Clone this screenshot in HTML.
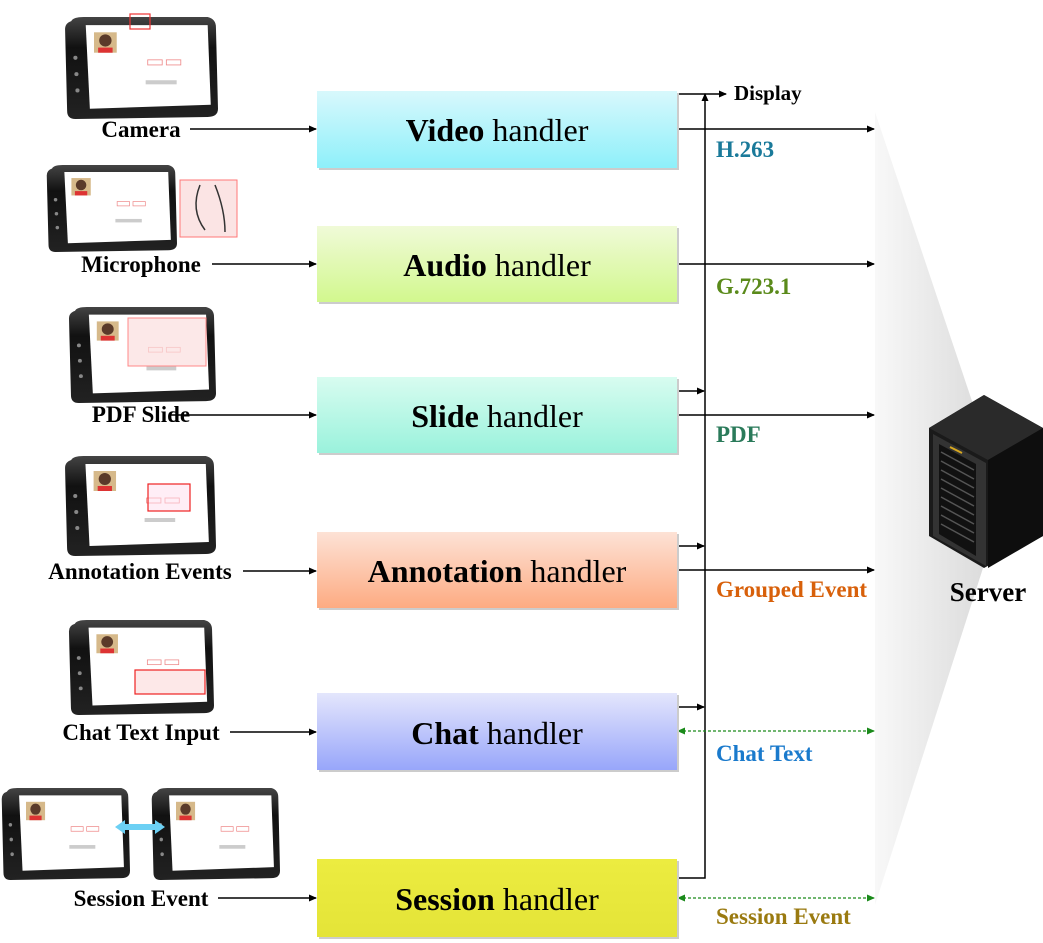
<!DOCTYPE html>
<html><head><meta charset="utf-8">
<style>
body{margin:0;background:#fff;}
svg{display:block;font-family:"Liberation Serif",serif;}
</style></head><body>
<svg width="1043" height="943" viewBox="0 0 1043 943" xmlns="http://www.w3.org/2000/svg">
<defs>
<linearGradient id="fan" x1="0" x2="1" y1="0" y2="0">
<stop offset="0" stop-color="#f8f8f8"/><stop offset="1" stop-color="#dcdcdc"/></linearGradient>
<linearGradient id="gV" x1="0" y1="0" x2="0" y2="1"><stop offset="0" stop-color="#d8f8fc"/><stop offset="1" stop-color="#8ef0fa"/></linearGradient>
<linearGradient id="gA" x1="0" y1="0" x2="0" y2="1"><stop offset="0" stop-color="#f0fad8"/><stop offset="1" stop-color="#d2f88e"/></linearGradient>
<linearGradient id="gS" x1="0" y1="0" x2="0" y2="1"><stop offset="0" stop-color="#d8fcf0"/><stop offset="1" stop-color="#9af2dc"/></linearGradient>
<linearGradient id="gN" x1="0" y1="0" x2="0" y2="1"><stop offset="0" stop-color="#fde2d6"/><stop offset="1" stop-color="#fdab82"/></linearGradient>
<linearGradient id="gC" x1="0" y1="0" x2="0" y2="1"><stop offset="0" stop-color="#e4e6fc"/><stop offset="1" stop-color="#98a6fa"/></linearGradient>
<linearGradient id="gE" x1="0" y1="0" x2="0" y2="1"><stop offset="0" stop-color="#ecec40"/><stop offset="1" stop-color="#e4e438"/></linearGradient>
<linearGradient id="dark" x1="0" y1="0" x2="0" y2="1"><stop offset="0" stop-color="#444"/><stop offset="0.3" stop-color="#111"/><stop offset="1" stop-color="#222"/></linearGradient>
<marker id="ar" markerWidth="8" markerHeight="8" refX="7" refY="4" orient="auto" markerUnits="userSpaceOnUse"><path d="M0,0.5 L8,4 L0,7.5z" fill="#000"/></marker>
<marker id="ag" markerWidth="8" markerHeight="8" refX="7" refY="4" orient="auto-start-reverse" markerUnits="userSpaceOnUse"><path d="M0,0.5 L8,4 L0,7.5z" fill="#1a8a1a"/></marker>
<symbol id="tab" viewBox="0 0 150 100" preserveAspectRatio="none">
<path d="M8,4 Q10,0 20,0 L140,0 Q148,2 148,10 L150,90 Q150,98 140,98 L12,100 Q4,100 4,92 L2,12 Q2,6 8,4z" fill="url(#dark)"/>
<path d="M22,8 L140,8 L143,86 L26,90z" fill="#fff"/>
<rect x="30" y="15" width="22" height="20" fill="#d6b98a"/>
<circle cx="41" cy="23" r="6" fill="#5a3a2a"/>
<rect x="34" y="30" width="14" height="5" fill="#d33"/>
<rect x="82" y="42" width="14" height="5" fill="none" stroke="#e88" stroke-width="0.8"/>
<rect x="100" y="42" width="14" height="5" fill="none" stroke="#e88" stroke-width="0.8"/>
<rect x="80" y="62" width="30" height="4" fill="#ccc"/>
<circle cx="12" cy="40" r="2" fill="#888"/><circle cx="13" cy="56" r="2" fill="#888"/><circle cx="14" cy="72" r="2" fill="#888"/>
</symbol>
</defs>

<polygon points="875,112 975,410 983,568 875,905" fill="url(#fan)"/>

<use href="#tab" x="63" y="17" width="155" height="102"/>
<rect x="130" y="14" width="20" height="15" fill="none" stroke="#e33" stroke-width="1.2"/>
<use href="#tab" x="45" y="165" width="132" height="87"/>
<rect x="180" y="180" width="57" height="57" fill="#fbe4e4" stroke="#f77" stroke-width="1"/>
<path d="M200,185 Q190,210 205,230 M215,185 Q225,210 225,232" stroke="#333" fill="none" stroke-width="1.5"/>
<use href="#tab" x="67" y="307" width="149" height="96"/>
<rect x="128" y="318" width="78" height="48" fill="#fbdede" fill-opacity="0.7" stroke="#f88"/>
<use href="#tab" x="63" y="456" width="153" height="100"/>
<rect x="148" y="484" width="42" height="27" fill="#fde" fill-opacity="0.5" stroke="#e22" stroke-width="1.2"/>
<use href="#tab" x="67" y="620" width="147" height="95"/>
<rect x="135" y="670" width="70" height="24" fill="#fde8e8" stroke="#e22" stroke-width="1.2"/>
<use href="#tab" x="0" y="788" width="130" height="92"/>
<use href="#tab" x="150" y="788" width="130" height="92"/>
<path d="M115,827 L125,820 L125,824 L155,824 L155,820 L165,827 L155,834 L155,830 L125,830 L125,834z" fill="#6cd0f4"/>

<g font-weight="bold" font-size="23" fill="#000">
<text x="141" y="137" text-anchor="middle">Camera</text>
<text x="141" y="272" text-anchor="middle">Microphone</text>
<text x="141" y="422" text-anchor="middle">PDF Slide</text>
<text x="140" y="579" text-anchor="middle">Annotation Events</text>
<text x="141" y="740" text-anchor="middle">Chat Text Input</text>
<text x="141" y="906" text-anchor="middle">Session Event</text>
<text x="734" y="100" font-size="21">Display</text>
<text x="988" y="601" text-anchor="middle" font-size="27">Server</text>
</g>

<g stroke="#000" stroke-width="1.5" fill="none">
<line x1="190" y1="129" x2="316" y2="129" marker-end="url(#ar)"/>
<line x1="212" y1="264" x2="316" y2="264" marker-end="url(#ar)"/>
<line x1="170" y1="415" x2="316" y2="415" marker-end="url(#ar)"/>
<line x1="243" y1="571" x2="316" y2="571" marker-end="url(#ar)"/>
<line x1="230" y1="732" x2="316" y2="732" marker-end="url(#ar)"/>
<line x1="218" y1="898" x2="316" y2="898" marker-end="url(#ar)"/>
<line x1="677" y1="129" x2="874" y2="129" marker-end="url(#ar)"/>
<line x1="677" y1="264" x2="874" y2="264" marker-end="url(#ar)"/>
<line x1="677" y1="415" x2="874" y2="415" marker-end="url(#ar)"/>
<line x1="677" y1="570" x2="874" y2="570" marker-end="url(#ar)"/>
<line x1="677" y1="94" x2="726" y2="94" marker-end="url(#ar)"/>
<polyline points="677,878 705,878 705,94" marker-end="url(#ar)"/>
<line x1="677" y1="391" x2="704" y2="391" marker-end="url(#ar)"/>
<line x1="677" y1="546" x2="704" y2="546" marker-end="url(#ar)"/>
<line x1="677" y1="707" x2="704" y2="707" marker-end="url(#ar)"/>
</g>
<g stroke="#1a8a1a" stroke-width="1.3" stroke-dasharray="3,2" fill="none">
<line x1="678" y1="731" x2="874" y2="731" marker-start="url(#ag)" marker-end="url(#ag)"/>
<line x1="678" y1="898" x2="874" y2="898" marker-start="url(#ag)" marker-end="url(#ag)"/>
</g>

<g>
<rect x="319" y="93" width="360" height="77" fill="#ccc"/>
<rect x="317" y="91" width="360" height="77" fill="url(#gV)"/>
<rect x="319" y="228" width="360" height="76" fill="#ccc"/>
<rect x="317" y="226" width="360" height="76" fill="url(#gA)"/>
<rect x="319" y="379" width="360" height="76" fill="#ccc"/>
<rect x="317" y="377" width="360" height="76" fill="url(#gS)"/>
<rect x="319" y="534" width="360" height="76" fill="#ccc"/>
<rect x="317" y="532" width="360" height="76" fill="url(#gN)"/>
<rect x="319" y="695" width="360" height="77" fill="#ccc"/>
<rect x="317" y="693" width="360" height="77" fill="url(#gC)"/>
<rect x="319" y="861" width="360" height="78" fill="#ccc"/>
<rect x="317" y="859" width="360" height="78" fill="url(#gE)"/>
</g>
<g font-size="32" text-anchor="middle" fill="#000">
<text x="497" y="141"><tspan font-weight="bold">Video</tspan> handler</text>
<text x="497" y="276"><tspan font-weight="bold">Audio</tspan> handler</text>
<text x="497" y="427"><tspan font-weight="bold">Slide</tspan> handler</text>
<text x="497" y="582"><tspan font-weight="bold">Annotation</tspan> handler</text>
<text x="497" y="744"><tspan font-weight="bold">Chat</tspan> handler</text>
<text x="497" y="910"><tspan font-weight="bold">Session</tspan> handler</text>
</g>
<g font-size="23" font-weight="bold">
<text x="716" y="157" fill="#1a7a9a">H.263</text>
<text x="716" y="294" fill="#5a8a1a">G.723.1</text>
<text x="716" y="442" fill="#2a7a5a">PDF</text>
<text x="716" y="597" fill="#d8600a">Grouped Event</text>
<text x="716" y="761" fill="#1a7acc">Chat Text</text>
<text x="716" y="924" fill="#9a7a10">Session Event</text>
</g>

<polygon points="929,428 984,395 1043,428 1043,536 984,568 929,536" fill="#1a1a1a"/>
<polygon points="929,428 984,395 1043,428 988,460" fill="#2a2a2a"/>
<polygon points="988,460 1043,428 1043,536 988,568" fill="#0e0e0e"/>
<polygon points="933,434 986,463 986,566 933,536" fill="#333"/>
<polygon points="939,444 976,464 976,556 939,534" fill="#111"/>
<g stroke="#555" stroke-width="1.5">
<line x1="941" y1="452" x2="974" y2="470"/><line x1="941" y1="461" x2="974" y2="479"/>
<line x1="941" y1="470" x2="974" y2="488"/><line x1="941" y1="479" x2="974" y2="497"/>
<line x1="941" y1="488" x2="974" y2="506"/><line x1="941" y1="497" x2="974" y2="515"/>
<line x1="941" y1="506" x2="974" y2="524"/><line x1="941" y1="515" x2="974" y2="533"/>
<line x1="941" y1="524" x2="974" y2="542"/>
</g>
<line x1="950" y1="447" x2="962" y2="453" stroke="#d8a820" stroke-width="2"/>
</svg>
</body></html>
